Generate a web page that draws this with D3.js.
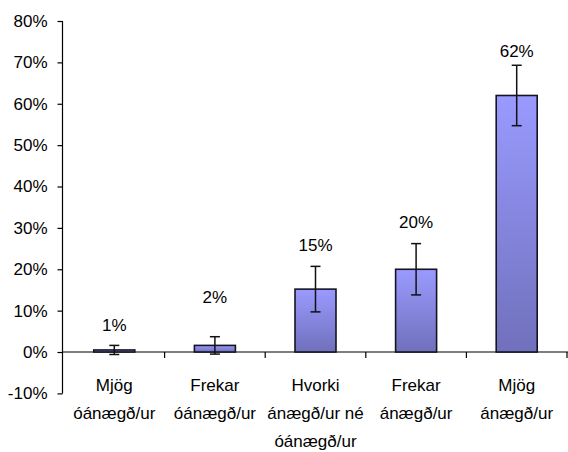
<!DOCTYPE html>
<html>
<head>
<meta charset="utf-8">
<script src="https://cdn.jsdelivr.net/npm/d3@7/dist/d3.min.js"></script>
<style>
  html, body { margin: 0; padding: 0; background: #fff; }
  svg { display: block; }
  text { font-family: "Liberation Sans", Arial, sans-serif; fill: #000; }
</style>
</head>
<body>
<script>
// ---- data ----
const categories = [
  ["Mjög", "óánægð/ur"],
  ["Frekar", "óánægð/ur"],
  ["Hvorki", "ánægð/ur né", "óánægð/ur"],
  ["Frekar", "ánægð/ur"],
  ["Mjög", "ánægð/ur"]
];
const values = [0.5, 1.6, 15.2, 20.0, 62.0];
const errors = [1.1, 2.1, 5.5, 6.2, 7.3];
const valueLabels = ["1%", "2%", "15%", "20%", "62%"];
const labelAnchors = [6.5, 13.4, 25.8, 31.5, 72.8];
const yTicks = [-10, 0, 10, 20, 30, 40, 50, 60, 70, 80];

// ---- layout ----
const W = 568, H = 452;
const FS = 17;
const svg = d3.select("body").append("svg").attr("width", W).attr("height", H);

const defs = svg.append("defs");
const grad = defs.append("linearGradient").attr("id", "barGrad")
  .attr("x1", 0).attr("y1", 0).attr("x2", 0).attr("y2", 1);
grad.append("stop").attr("offset", "0%").attr("stop-color", "#9a9aff");
grad.append("stop").attr("offset", "100%").attr("stop-color", "#7070bc");

const x = d3.scaleBand().domain(d3.range(categories.length)).range([64, 567]).padding(0);
const y = d3.scaleLinear().domain([-10, 80]).range([393.4, 21]);
const barW = 41;

// y axis
const yAxis = d3.axisLeft(y).tickValues(yTicks).tickSize(5).tickPadding(10)
  .tickFormat(d => d + "%");
const gy = svg.append("g").attr("transform", "translate(62.5,0)").call(yAxis);
gy.select(".domain").attr("stroke", "#000").attr("stroke-width", 1.2)
  .attr("d", `M0,${y(80)}V${y(-10)}`);
gy.selectAll(".tick line").attr("stroke", "#000").attr("stroke-width", 1.2);
gy.selectAll(".tick text").attr("font-size", FS).attr("font-family", "Liberation Sans, Arial, sans-serif").attr("fill", "#000");

// x axis line at 0
svg.append("line").attr("x1", 62.5).attr("x2", W).attr("y1", y(0)).attr("y2", y(0))
  .attr("stroke", "#000").attr("stroke-width", 1.2);
// category boundary ticks
svg.append("g").selectAll("line").data(d3.range(1, categories.length + 1)).join("line")
  .attr("x1", i => x(i - 1) + x.bandwidth()).attr("x2", i => x(i - 1) + x.bandwidth())
  .attr("y1", y(0)).attr("y2", y(0) + 6)
  .attr("stroke", "#000").attr("stroke-width", 1.2);

// bars
svg.append("g").selectAll("rect").data(values).join("rect")
  .attr("x", (d, i) => x(i) + x.bandwidth() / 2 - barW / 2)
  .attr("y", d => y(d))
  .attr("width", barW)
  .attr("height", d => y(0) - y(d))
  .attr("fill", "url(#barGrad)")
  .attr("stroke", "#151522").attr("stroke-width", 1.6);

// error bars
const eg = svg.append("g").attr("stroke", "#111").attr("stroke-width", 1.5);
values.forEach((v, i) => {
  const cx = x(i) + x.bandwidth() / 2;
  const top = y(v + errors[i]), bot = y(v - errors[i]);
  eg.append("line").attr("x1", cx).attr("x2", cx).attr("y1", top).attr("y2", bot);
  eg.append("line").attr("x1", cx - 5).attr("x2", cx + 5).attr("y1", top).attr("y2", top);
  eg.append("line").attr("x1", cx - 5).attr("x2", cx + 5).attr("y1", bot).attr("y2", bot);
});

// value labels
svg.append("g").selectAll("text").data(valueLabels).join("text")
  .attr("x", (d, i) => x(i) + x.bandwidth() / 2)
  .attr("y", (d, i) => y(labelAnchors[i]))
  .attr("dy", "0.35em")
  .attr("text-anchor", "middle").attr("font-size", FS)
  .text(d => d);

// category labels
const cg = svg.append("g");
categories.forEach((lines, i) => {
  const t = cg.append("text").attr("text-anchor", "middle").attr("font-size", FS)
    .attr("x", x(i) + x.bandwidth() / 2).attr("y", 385);
  lines.forEach((ln, j) => {
    t.append("tspan").attr("x", x(i) + x.bandwidth() / 2)
      .attr("dy", j === 0 ? "0.35em" : "28px").text(ln);
  });
});
</script>
</body>
</html>
